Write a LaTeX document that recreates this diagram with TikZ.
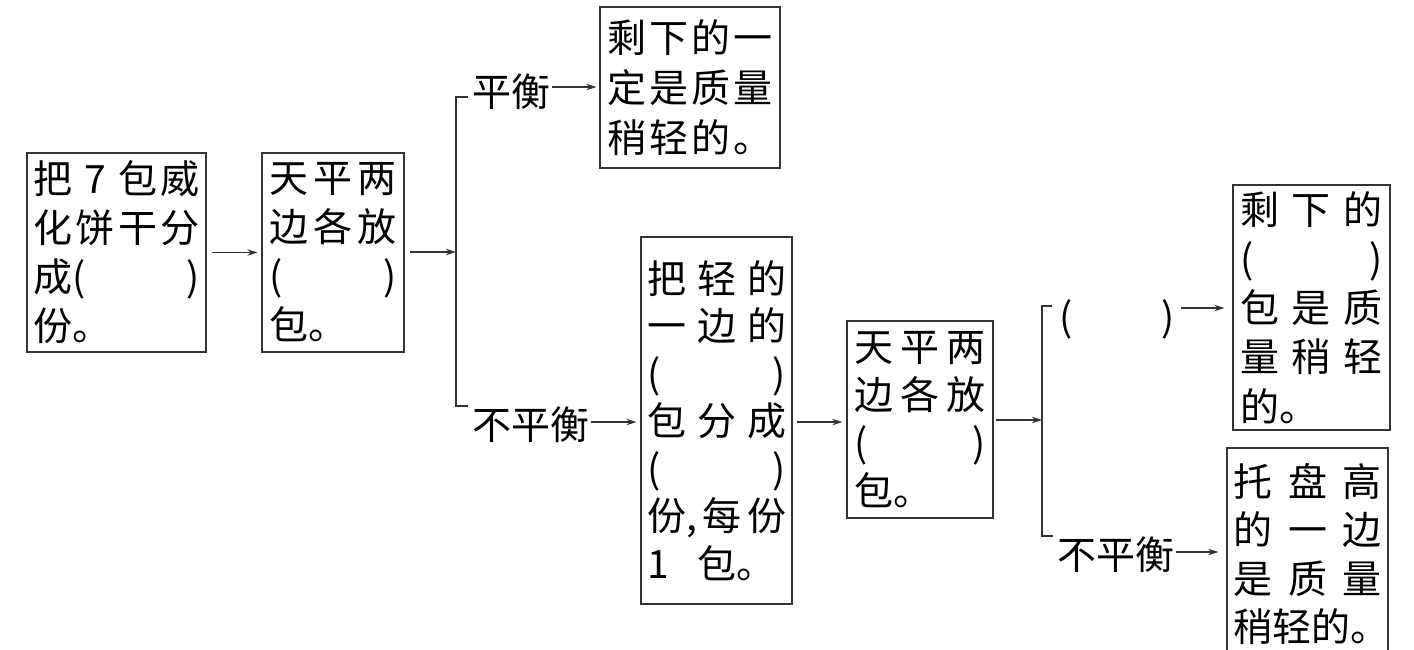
\documentclass[tikz,border=0pt]{standalone}
\usepackage{fontspec}
\newfontfamily\cjk{Noto Sans CJK SC}
\usetikzlibrary{arrows.meta}
\newcommand\bx[1]{\cjk\fontsize{39}{#1}\selectfont}
\newcommand\cc[1]{\makebox[1em][l]{#1}}
\newcommand\rw[1]{\makebox[\linewidth][l]{#1}}
\begin{document}
\begin{tikzpicture}[x=1pt,y=-1pt,
  box/.style={draw=black!80, line width=1.3pt, inner sep=0pt, align=left},
  lbl/.style={font=\bx{39}, inner sep=0pt},
  arr/.style={line width=1.3pt, draw=black!80, -{Stealth[length=10pt,width=6.5pt]}},
  brk/.style={line width=1.3pt, draw=black!80}]
\useasboundingbox (0,0) rectangle (1414,649);
\clip (0,0) rectangle (1414,649);

% boxes
\node[box, minimum width=179pt, minimum height=199pt, text width=166pt, font=\bx{49}] (A) at (116.5,252.5)
 {\rw{\cc{把}\hfill\cc{\hfill 7\hfill}\hfill\cc{包}\hfill\cc{威}}\\
  \rw{\cc{化}\hfill\cc{饼}\hfill\cc{干}\hfill\cc{分}}\\
  \rw{成(\hfill)}\\
  \rw{份。}};

\node[box, minimum width=142pt, minimum height=199pt, text width=127pt, font=\bx{49}] (B) at (333,252.5)
 {\rw{\cc{天}\hfill\cc{平}\hfill\cc{两}}\\
  \rw{\cc{边}\hfill\cc{各}\hfill\cc{放}}\\
  \rw{(\hfill)}\\
  \rw{包。}};

\node[box, minimum width=180pt, minimum height=161pt, text width=166pt, font=\bx{50}] (C) at (690,87.5)
 {\rw{\cc{剩}\hfill\cc{下}\hfill\cc{的}\hfill\cc{一}}\\
  \rw{\cc{定}\hfill\cc{是}\hfill\cc{质}\hfill\cc{量}}\\
  \rw{\cc{稍}\hfill\cc{轻}\hfill\cc{的}\hfill\cc{。}}};

\node[box, minimum width=151pt, minimum height=367pt, text width=139pt, font=\bx{47.5}] (D) at (716.5,420.5)
 {\rw{\cc{把}\hfill\cc{轻}\hfill\cc{的}}\\
  \rw{\cc{一}\hfill\cc{边}\hfill\cc{的}}\\
  \rw{(\hfill)}\\
  \rw{\cc{包}\hfill\cc{分}\hfill\cc{成}}\\
  \rw{(\hfill)}\\
  \rw{份,\hfill 每\hfill 份}\\
  \rw{\cc{1}\hfill\cc{包。}\hfill\cc{}}};

\node[box, minimum width=146pt, minimum height=197pt, text width=132pt, font=\bx{48}] (E) at (920,419.5)
 {\rw{\cc{天}\hfill\cc{平}\hfill\cc{两}}\\
  \rw{\cc{边}\hfill\cc{各}\hfill\cc{放}}\\
  \rw{(\hfill)}\\
  \rw{包。}};

\node[box, minimum width=157pt, minimum height=245pt, text width=142pt, font=\bx{49.25}] (F) at (1311.5,307.5)
 {\rw{\cc{剩}\hfill\cc{下}\hfill\cc{的}}\\
  \rw{(\hfill)}\\
  \rw{\cc{包}\hfill\cc{是}\hfill\cc{质}}\\
  \rw{\cc{量}\hfill\cc{稍}\hfill\cc{轻}}\\
  \rw{的。}};

\node[box, minimum width=161pt, minimum height=212pt, text width=149pt, font=\bx{48.3}] (G) at (1307.5,554)
 {\rw{\cc{托}\hfill\cc{盘}\hfill\cc{高}}\\
  \rw{\cc{的}\hfill\cc{一}\hfill\cc{边}}\\
  \rw{\cc{是}\hfill\cc{质}\hfill\cc{量}}\\
  \rw{稍轻的。}};

% labels
\node[lbl] (L1) at (511,92) {平衡};
\node[lbl] (L2) at (531,425) {不平衡};
\node[lbl] (L3) at (1117,319) {(\hspace{89pt})};
\node[lbl] (L4) at (1116,555) {不平衡};

% bracket points
\coordinate (j1) at (456,252);
\coordinate (t1) at (456,97);
\coordinate (b1) at (456,406);
\coordinate (j2) at (1042,420);
\coordinate (t2) at (1042,306);
\coordinate (b2) at (1042,536);

% brackets
\draw[brk] ([xshift=12pt]t1) -- (t1) -- (b1) -- ([xshift=12pt]b1);
\draw[brk] ([xshift=10pt]t2) -- (t2) -- (b2) -- ([xshift=11pt]b2);

% arrows
\draw[arr, shorten <=5pt, shorten >=4pt] (A) -- (B);
\draw[arr, shorten <=5pt] (B.east |- j1) -- (j1);
\draw[arr, shorten <=2pt, shorten >=3pt] ([yshift=5pt]L1.east) -- ([yshift=5pt]L1.east -| C.west);
\draw[arr, shorten <=1pt, shorten >=4pt] ([yshift=3pt]L2.east) -- ([yshift=3pt]L2.east -| D.west);
\draw[arr, shorten <=4pt, shorten >=4pt] (D.east |- 0,422) -- (E.west |- 0,422);
\draw[arr, shorten <=2pt] (E.east |- j2) -- (j2);
\draw[arr, shorten <=6pt, shorten >=8pt] ([yshift=11pt]L3.east) -- ([yshift=11pt]L3.east -| F.west);
\draw[arr, shorten <=1pt, shorten >=8pt] ([yshift=3pt]L4.east) -- ([yshift=3pt]L4.east -| G.west);
\end{tikzpicture}
\end{document}
